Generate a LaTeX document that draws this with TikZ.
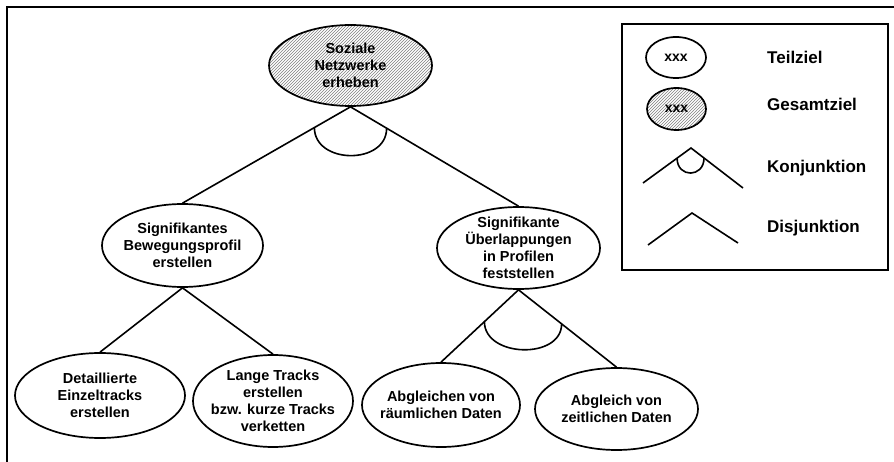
\documentclass[tikz,border=0pt]{standalone}
\usepackage{fontspec}
\setmainfont{Liberation Sans}
\usetikzlibrary{shapes.geometric,patterns,calc}
\begin{document}
\begin{tikzpicture}[x=1pt,y=-1pt,
  goal/.style={ellipse, draw, line width=1.7pt, inner sep=0pt},
  hatched/.style={preaction={fill=white}, pattern=north east lines, pattern color=black!50},
  txt/.style={align=center, inner sep=0pt, font=\bfseries\fontsize{14.5}{17}\selectfont},
  conn/.style={line width=1.6pt},
  legtxt/.style={anchor=base west, inner sep=0pt, font=\bfseries\fontsize{17}{20}\selectfont},
  xtxt/.style={inner sep=0pt, font=\bfseries\fontsize{14}{16}\selectfont},
]
\useasboundingbox (0,0) rectangle (894,462);
\fill[white] (0,0) rectangle (894,462);

% outer frame (only top and left edges visible)
\draw[line width=2pt] (894,7.5) -- (7,7.5) -- (7,462);

% goal ellipses
\node[goal, hatched, minimum width=163, minimum height=81] (T) at (350.5,65.5) {};
\node[txt] (Tt) at (T) {Soziale\\Netzwerke\\erheben};

\node[goal, minimum width=161, minimum height=83] (L) at (182.5,245.5) {};
\node[txt] (Lt) at (L) {Signifikantes\\Bewegungsprofil\\erstellen};

\node[goal, minimum width=163, minimum height=82] (R) at (518.5,248) {};
\node[txt] (Rt) at (R) {Signifikante\\Überlappungen\\in Profilen\\feststellen};

\node[goal, minimum width=170, minimum height=85] (D) at (100,395.5) {};
\node[txt] (Dt) at (D) {Detaillierte\\Einzeltracks\\erstellen};

\node[goal, minimum width=160, minimum height=92] (G) at (273,401) {};
\node[txt] (Gt) at (G) {Lange Tracks\\erstellen\\bzw. kurze Tracks\\verketten};

\node[goal, minimum width=158, minimum height=84] (A) at (441,405) {};
\node[txt] (At) at (A) {Abgleichen von\\räumlichen Daten};

\node[goal, minimum width=163, minimum height=82] (Z) at (616.5,409) {};
\node[txt] (Zt) at (Z) {Abgleich von\\zeitlichen Daten};

% connectors
\draw[conn] (T.south) -- (L.north) coordinate[pos=0.215] (c1);
\draw[conn] (T.south) -- (R.north) coordinate[pos=0.215] (c2);
\draw[conn] (c1) .. controls ($(c1)+(0,37)$) and ($(c2)+(0,37)$) .. (c2);

\draw[conn] (L.south) -- (D.north);
\draw[conn] (L.south) -- (G.north);

\draw[conn] (R.south) -- (A.north) coordinate[pos=0.44] (c3);
\draw[conn] (R.south) -- (Z.north) coordinate[pos=0.44] (c4);
\draw[conn] (c3) .. controls ($(c3)+(0,36)$) and ($(c4)+(0,36)$) .. (c4);

% legend
\draw[line width=1.7pt] (622,24) rectangle (888,270);

\node[goal, minimum width=60, minimum height=41] (LT) at (676,57.5) {};
\node[xtxt] (LTt) at (LT) {xxx};
\node[legtxt] (LTl) at (767,63.5) {Teilziel};

\node[goal, hatched, minimum width=59, minimum height=42] (LG) at (676.5,109) {};
\node[xtxt] (LGt) at (LG) {xxx};
\node[legtxt] (LGl) at (767,111) {Gesamtziel};

\coordinate (k1) at (643,183);
\coordinate (k0) at (691,148);
\coordinate (k2) at (743,188);
\draw[conn] (k1) -- (k0) -- (k2);
\coordinate (ka) at ($(k0)!0.29!(k1)$);
\coordinate (kb) at ($(k0)!0.25!(k2)$);
\draw[conn] (ka) .. controls ($(ka)+(0,20)$) and ($(kb)+(0,20)$) .. (kb);
\node[legtxt] (LKl) at (767,173) {Konjunktion};

\coordinate (d1) at (648,245);
\coordinate (d0) at (692,213);
\coordinate (d2) at (738,243);
\draw[conn] (d1) -- (d0) -- (d2);
\node[legtxt] (LDl) at (767,233) {Disjunktion};
\end{tikzpicture}
\end{document}
